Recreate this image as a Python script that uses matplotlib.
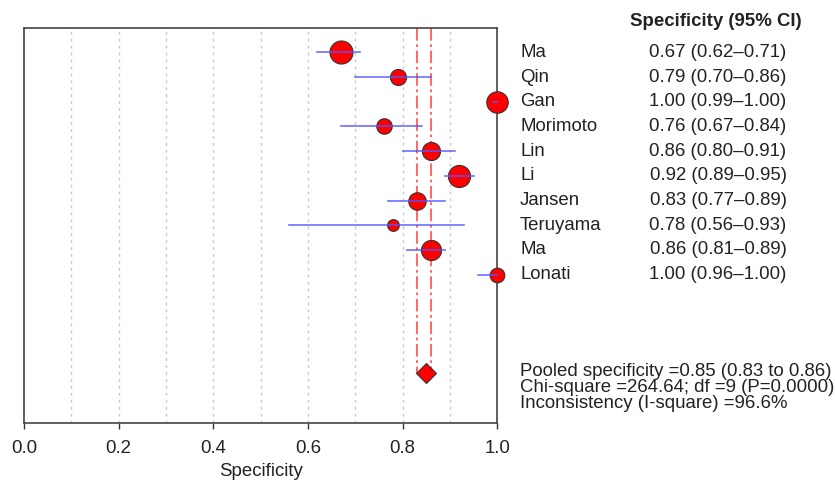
import numpy as np
import matplotlib

matplotlib.use("Agg")
import matplotlib.pyplot as plt
import matplotlib.transforms as mtransforms

plt.rcParams["font.family"] = ["Liberation Sans", "DejaVu Sans"]

studies = ["Ma", "Qin", "Gan", "Morimoto", "Lin", "Li", "Jansen", "Teruyama", "Ma", "Lonati"]
spec = [0.67, 0.79, 1.00, 0.76, 0.86, 0.92, 0.83, 0.78, 0.86, 1.00]
ci_low = [0.62, 0.70, 0.99, 0.67, 0.80, 0.89, 0.77, 0.56, 0.81, 0.96]
ci_high = [0.71, 0.86, 1.00, 0.84, 0.91, 0.95, 0.89, 0.93, 0.89, 1.00]
weights = [15.8, 7.7, 13.7, 7.1, 9.7, 14.5, 9.1, 4.1, 12.0, 6.4]

pooled = 0.85
pooled_low = 0.83
pooled_high = 0.86
summary_lines = [
    "Pooled specificity =0.85 (0.83 to 0.86)",
    "Chi-square =264.64; df =9 (P=0.0000)",
    "Inconsistency (I-square) =96.6%",
]

W, H = 835, 484
FS = 13.4
TXT = "#222222"
fig = plt.figure(figsize=(W / 100, H / 100), dpi=100)
ax = fig.add_axes([24 / W, 1 - 422.7 / H, (497.3 - 24) / W, (422.7 - 27.7) / H])

rows = np.arange(1, len(studies) + 1)
pooled_row = 14

# grid
for gx in np.arange(0.1, 1.0, 0.1):
    ax.axvline(gx, color="#c8c8c8", lw=1.0, ls=(0, (2, 3)), zorder=0)

# pooled CI lines
for vx in (pooled_low, pooled_high):
    ax.plot([vx, vx], [0, pooled_row], color="#ff5a5a", lw=1.3,
            ls=(0, (7, 2, 1.5, 2)), zorder=1)

# study markers and CIs
diam_px = 5.8 * np.sqrt(weights)
for r, s, lo, hi, d in zip(rows, spec, ci_low, ci_high, diam_px):
    ax.plot(s, r, "o", ms=d * 0.72, mfc="red", mec="#333333", mew=0.8,
            zorder=3, clip_on=False)
    ax.plot([lo, hi], [r, r], color="#5555ff", alpha=0.85, lw=1.2,
            zorder=4, clip_on=False)

ax.plot(pooled, pooled_row, "D", ms=9.7, mfc="red", mec="#333333", mew=0.8, zorder=3)

ax.set_xlim(0, 1)
ax.set_ylim(16, 0)
ax.set_yticks([])
ax.set_xticks(np.arange(0, 1.01, 0.2))
ax.set_xticklabels([f"{v:.1f}" for v in np.arange(0, 1.01, 0.2)])
ax.tick_params(axis="x", direction="out", length=4.5, width=1, color="#333333",
               labelsize=FS, pad=8, colors=TXT)
ax.set_xlabel("Specificity", fontsize=FS, labelpad=4, color=TXT)
for sp in ax.spines.values():
    sp.set_color("#444444")
    sp.set_linewidth(1.2)

# right-hand text column
trans = mtransforms.blended_transform_factory(fig.transFigure, ax.transData)
for r, name, s, lo, hi in zip(rows, studies, spec, ci_low, ci_high):
    ax.text(520 / W, r, name, transform=trans, ha="left", va="center",
            fontsize=FS, color=TXT, clip_on=False)
    ax.text(786.5 / W, r, f"{s:.2f} ({lo:.2f}\u2013{hi:.2f})", transform=trans,
            ha="right", va="center", fontsize=FS, color=TXT, clip_on=False)

fig.text(802 / W, 1 - 21 / H, "Specificity (95% CI)", ha="right", va="center",
         fontsize=FS, fontweight="bold", color=TXT)

for i, line in enumerate(summary_lines):
    fig.text(520.5 / W, 1 - (371 + 16.2 * i) / H, line, ha="left", va="center",
             fontsize=FS, color=TXT)

fig.savefig("out.png", dpi=100)
